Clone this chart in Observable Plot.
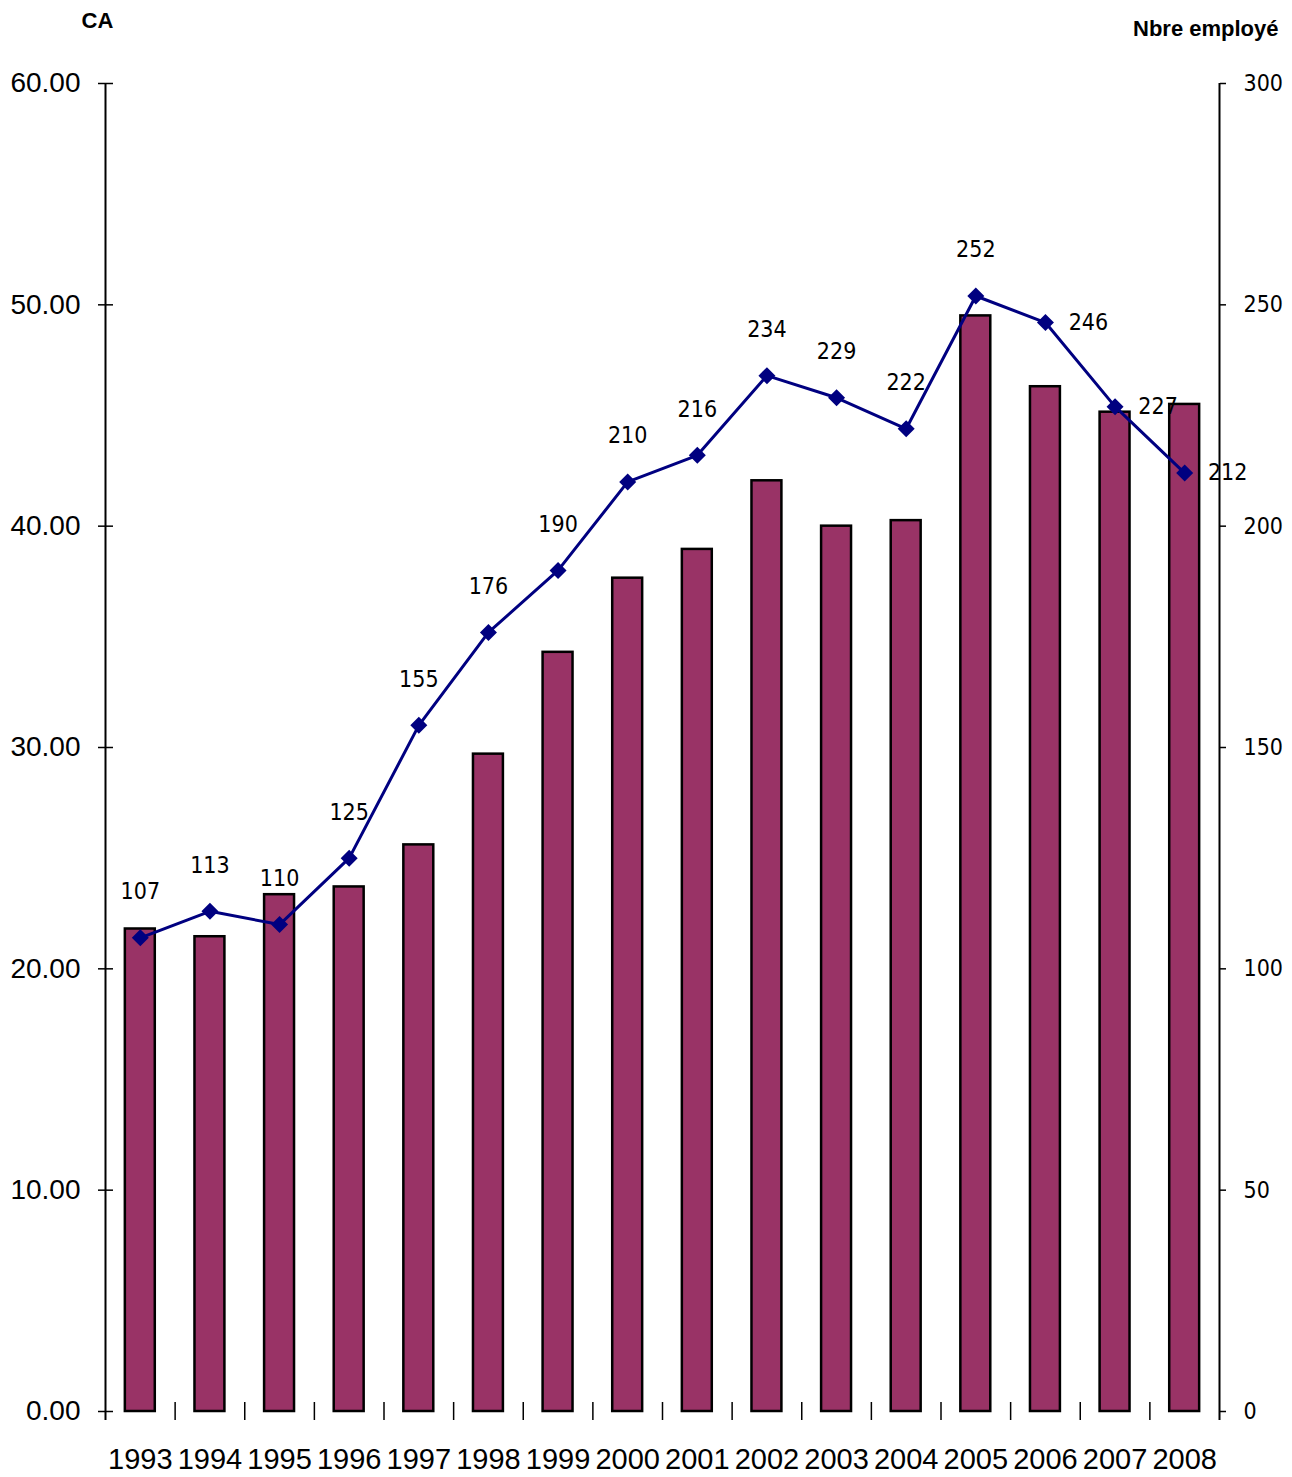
<!DOCTYPE html>
<html>
<head>
<meta charset="utf-8">
<script src="https://cdn.jsdelivr.net/npm/d3@7"></script>
<script src="https://cdn.jsdelivr.net/npm/@observablehq/plot@0.6"></script>
<style>
  html, body { margin: 0; padding: 0; background: #fff; }
  #chart svg { display: block; }
</style>
</head>
<body>
<div id="chart"></div>
<script>
// ---- data ----
const years = [1993, 1994, 1995, 1996, 1997, 1998, 1999, 2000, 2001, 2002, 2003, 2004, 2005, 2006, 2007, 2008];
const ca = [21.8, 21.45, 23.35, 23.7, 25.6, 29.7, 34.3, 37.65, 38.95, 42.05, 40.0, 40.25, 49.5, 46.3, 45.15, 45.5];
const employees = [107, 113, 110, 125, 155, 176, 190, 210, 216, 234, 229, 222, 252, 246, 227, 212];
const leftTicks = [0, 10, 20, 30, 40, 50, 60];
const rightTicks = [0, 50, 100, 150, 200, 250, 300];
const leftTitle = "CA";
const rightTitle = "Nbre employé";

// ---- derived table ----
const data = years.map((year, i) => ({year, ca: ca[i], emp: employees[i]}));
const ratio = 300 / 60; // right axis max / left axis max
const xDomain = [years[0] - 0.5, years[years.length - 1] + 0.5];
const boundaries = years.slice(0, -1).map(y => y + 0.5);
const halfBar = 0.215;

const narrow = "'Liberation Sans Narrow', 'DejaVu Sans Condensed', 'Liberation Sans', sans-serif";
const sans = "'Liberation Sans', Arial, sans-serif";

const diamond = {
  draw(ctx, size) {
    const h = Math.sqrt(size / Math.PI);
    ctx.moveTo(0, -h); ctx.lineTo(h, 0); ctx.lineTo(0, h); ctx.lineTo(-h, 0); ctx.closePath();
  }
};

const chart = Plot.plot({
  width: 1292,
  height: 1477,
  marginLeft: 105,
  marginRight: 73,
  marginTop: 83,
  marginBottom: 57,
  style: {fontFamily: sans, background: "#fff", overflow: "visible", color: "#000"},
  x: {type: "linear", domain: xDomain},
  y: {domain: [0, 60], insetBottom: 9},
  marks: [
    // bars
    Plot.rectY(data, {x1: d => d.year - halfBar, x2: d => d.year + halfBar, y: "ca", fill: "#993366", stroke: "#000", strokeWidth: 2.5}),
    // axis lines
    Plot.ruleX(xDomain, {stroke: "#000", strokeWidth: 2}),
    // left ticks crossing axis
    Plot.axisY({anchor: "left", ticks: leftTicks, tickSize: 15, dx: 8, tickFormat: () => "", label: null, strokeWidth: 1.5}),
    // left labels
    Plot.axisY({anchor: "left", ticks: leftTicks, tickSize: 0, tickPadding: 25, tickFormat: d3.format(".2f"), label: null, fontSize: 28, fontFamily: sans}),
    // right axis
    Plot.axisY({anchor: "right", ticks: rightTicks.map(v => v / ratio), tickSize: 6, tickPadding: 18, tickFormat: d => String(Math.round(d * ratio)), label: null, fontSize: 23, fontFamily: narrow, strokeWidth: 1.5}),
    // x boundary ticks
    Plot.axisX({anchor: "bottom", ticks: boundaries, tickSize: 18, dy: -18, tickFormat: () => "", label: null, strokeWidth: 1.5}),
    // x labels
    Plot.axisX({anchor: "bottom", ticks: years, tickSize: 0, tickPadding: 28, tickFormat: d => String(d), label: null, fontSize: 29, fontFamily: sans}),
    // employees line
    Plot.line(data, {x: "year", y: d => d.emp / ratio, stroke: "#000080", strokeWidth: 3}),
    Plot.dot(data, {x: "year", y: d => d.emp / ratio, symbol: diamond, r: 8.5, fill: "#000080", stroke: "none"}),
    // data labels
    Plot.text(data, {filter: d => d.year < 2006, x: "year", y: d => d.emp / ratio, text: d => String(d.emp), dy: -46, fontSize: 23, fontFamily: narrow, fill: "#000"}),
    Plot.text(data, {filter: d => d.year >= 2006, x: "year", y: d => d.emp / ratio, text: d => String(d.emp), dx: 43, fontSize: 23, fontFamily: narrow, fill: "#000"}),
    // axis titles
    Plot.text([leftTitle], {frameAnchor: "top-left", text: d => d, dx: -8, dy: -56, lineAnchor: "bottom", textAnchor: "middle", fontSize: 22, fontWeight: "bold", fontFamily: sans, fill: "#000"}),
    Plot.text([rightTitle], {frameAnchor: "top-right", text: d => d, dx: 59, dy: -48, lineAnchor: "bottom", textAnchor: "end", fontSize: 22, fontWeight: "bold", fontFamily: sans, fill: "#000"})
  ]
});

document.getElementById("chart").appendChild(chart);
</script>
</body>
</html>
